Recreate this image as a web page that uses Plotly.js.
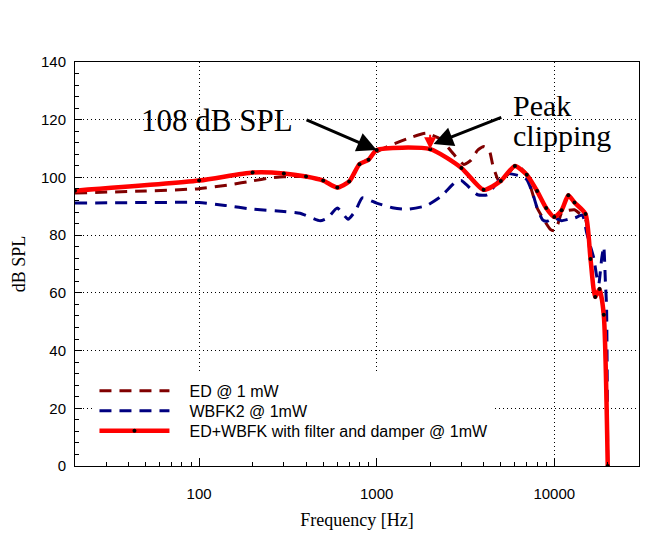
<!DOCTYPE html>
<html>
<head>
<meta charset="utf-8">
<script src="https://cdn.plot.ly/plotly-3.0.1.min.js"></script>
<style>html,body{margin:0;padding:0;background:#fff}</style>
</head>
<body>
<div id="chart" style="width:671px;height:534px"></div>
<script>
// ---- data ----
const seriesNames = ["ED @ 1 mW", "WBFK2 @ 1mW", "ED+WBFK with filter and damper @ 1mW"];

const edFreq = [20, 50, 100, 150, 200, 250, 300, 400, 500, 600, 700, 800, 900, 1000, 1200, 1500, 1900, 2300, 2700, 3100, 3400, 3700, 4000, 4300, 4500, 4800, 5000, 5500, 6000, 6500, 7000, 7500, 8000, 8800, 9500, 10000, 10500, 11000, 12000, 13000, 14000, 15000, 16000, 17000, 18000, 19000, 20000];
const edSpl  = [94.6, 95.3, 96.1, 97.5, 98.8, 99.8, 100.2, 100.3, 98.9, 96.5, 98.6, 104.5, 106.3, 108.8, 111.2, 113.5, 115.3, 113.2, 108.2, 104.5, 106.0, 109.4, 110.7, 109.5, 104.4, 99.5, 98.5, 101.2, 104.0, 103.2, 100.9, 95.0, 89.5, 85.0, 82.0, 81.5, 84.0, 87.8, 88.6, 88.8, 87.3, 85.5, 72.0, 59.0, 60.0, 52.0, 0];

const wbFreq = [20, 50, 100, 140, 200, 300, 370, 480, 530, 600, 690, 760, 830, 1000, 1250, 1500, 1900, 2300, 2800, 3000, 3200, 3700, 4200, 4900, 5500, 6400, 7000, 7600, 8000, 8600, 9100, 10000, 11000, 12000, 13100, 14400, 15200, 16000, 16700, 17300, 17800, 18500, 19000, 19400, 19700, 20000];
const wbSpl  = [91.1, 91.3, 91.3, 90.3, 89.0, 88.2, 87.6, 85.0, 86.0, 89.4, 85.5, 88.5, 92.9, 91.1, 89.4, 89.0, 90.2, 93.4, 98.6, 98.9, 97.5, 94.0, 94.0, 99.2, 101.3, 100.5, 99.3, 94.0, 89.5, 85.3, 84.8, 86.0, 85.0, 85.5, 86.0, 87.0, 81.0, 76.0, 72.0, 66.0, 63.0, 72.0, 76.0, 64.0, 55.0, 0];

const comboFreq = [20, 100, 200, 300, 400, 500, 600, 700, 800, 900, 1000, 2000, 3000, 4000, 5000, 6000, 7000, 8000, 9000, 10000, 11000, 12000, 13000, 15000, 16000, 17000, 18000, 19000, 20000];
const comboSpl  = [95.4, 98.9, 101.7, 101.4, 100.3, 98.9, 96.5, 98.6, 104.6, 106.1, 109.5, 109.8, 103.3, 95.7, 98.8, 104.0, 100.9, 95.3, 89.4, 86.3, 88.6, 93.8, 91.3, 87.3, 71.7, 58.6, 61.3, 52.4, 0];

const xTickVals = [100, 1000, 10000];
const xTickText = ["100", "1000", "10000"];
const yTickVals = [0, 20, 40, 60, 80, 100, 120, 140];
const yTickText = ["0", "20", "40", "60", "80", "100", "120", "140"];

const xTitle = "Frequency [Hz]";
const yTitle = "dB SPL";
const note1 = "108 dB SPL";
const note2a = "Peak";
const note2b = "clipping";

// ---- helpers ----
const L = Math.log10;
const xMinorVals = [];
[10, 100, 1000, 10000].forEach(d => { for (let k = 2; k <= 9; k++) xMinorVals.push(k * d); });

const clipIdx = comboFreq.indexOf(2000);
const refIdx = comboFreq.indexOf(1000);
const edPeak = Math.max(...edSpl);

const serif = "Liberation Serif, Times New Roman, serif";
const sans = "Liberation Sans, Arial, sans-serif";

const traces = [
  { x: edFreq, y: edSpl, name: seriesNames[0], type: "scatter", mode: "lines",
    line: { color: "#800000", width: 3, dash: "12px,8px", shape: "spline", smoothing: 0.5 } },
  { x: wbFreq, y: wbSpl, name: seriesNames[1], type: "scatter", mode: "lines",
    line: { color: "#000080", width: 3, dash: "12px,8px", shape: "spline", smoothing: 0.5 } },
  { x: comboFreq, y: comboSpl, name: seriesNames[2], type: "scatter", mode: "lines+markers",
    line: { color: "#ff0000", width: 4.5, shape: "spline", smoothing: 0.6 },
    marker: { color: "#000", size: 4 } }
];

const axisCommon = {
  showline: true, linecolor: "#000", linewidth: 1, mirror: true,
  ticks: "inside", ticklen: 7, tickcolor: "#000", tickwidth: 1,
  showgrid: true, gridcolor: "#000", gridwidth: 1, griddash: "1px,3px",
  zeroline: false, tickfont: { family: sans, size: 15, color: "#000" }
};

const layout = {
  width: 671, height: 534,
  margin: { l: 75, r: 32, t: 62, b: 68 },
  paper_bgcolor: "#fff", plot_bgcolor: "#fff",
  showlegend: true,
  legend: { x: 0.0345, y: 0.228, xanchor: "left", yanchor: "top", bgcolor: "#fff",
            borderwidth: 0, itemwidth: 85, tracegroupgap: 0,
            font: { family: sans, size: 16, color: "#000" } },
  xaxis: Object.assign({}, axisCommon, {
    type: "log", range: [L(20), L(30000)],
    tickmode: "array", tickvals: xTickVals, ticktext: xTickText,
    ticklabelstandoff: 14,
    minor: { tickmode: "array", tickvals: xMinorVals, ticks: "inside", ticklen: 4, tickcolor: "#000", showgrid: false },
    title: { text: xTitle, font: { family: serif, size: 18, color: "#000" }, standoff: 12 }
  }),
  yaxis: Object.assign({}, axisCommon, {
    range: [0, 140], tickmode: "array", tickvals: yTickVals, ticktext: yTickText,
    ticklabelstandoff: 5,
    minor: { dtick: 4, ticks: "inside", ticklen: 4, tickcolor: "#000", showgrid: false },
    title: { text: yTitle, font: { family: serif, size: 18, color: "#000" }, standoff: 10 }
  }),
  annotations: [
    { text: note1, x: L(46), y: 119.6, xref: "x", yref: "y", xanchor: "left", yanchor: "middle",
      showarrow: false, font: { family: serif, size: 31, color: "#000" } },
    { text: "", x: L(comboFreq[refIdx]), y: comboSpl[refIdx], xref: "x", yref: "y",
      ax: L(395), ay: 120.2, axref: "x", ayref: "y",
      showarrow: true, arrowhead: 2, arrowsize: 1.3, arrowwidth: 3, arrowcolor: "#000" },
    { text: note2a, x: L(5690), y: 125.0, xref: "x", yref: "y", xanchor: "left", yanchor: "middle",
      showarrow: false, font: { family: serif, size: 30, color: "#000" } },
    { text: note2b, x: L(5690), y: 114.4, xref: "x", yref: "y", xanchor: "left", yanchor: "middle",
      showarrow: false, font: { family: serif, size: 30, color: "#000" } },
    { text: "", x: L(2090), y: 111.6, xref: "x", yref: "y",
      ax: L(5130), ay: 121, axref: "x", ayref: "y",
      showarrow: true, arrowhead: 2, arrowsize: 1.3, arrowwidth: 3, arrowcolor: "#000" },
    { text: "", x: L(comboFreq[clipIdx]), y: comboSpl[clipIdx], xref: "x", yref: "y",
      ax: L(comboFreq[clipIdx]), ay: edPeak, axref: "x", ayref: "y",
      showarrow: true, arrowhead: 2, arrowsize: 1.2, arrowwidth: 2, arrowcolor: "#ff0000" }
  ]
};

Plotly.newPlot("chart", traces, layout, { displayModeBar: false, staticPlot: true }).then(gd => {
  // lengthen legend line samples and tighten row spacing to match the reference key
  gd.querySelectorAll(".legend .js-line").forEach(p => p.setAttribute("d", "M5,0h70"));
  gd.querySelectorAll(".legend .scatterpts").forEach(p => p.setAttribute("transform", "translate(40,0)"));
  const rows = Array.from(gd.querySelectorAll(".legend .traces"));
  if (rows.length) {
    const parse = t => { const m = /translate\(\s*([-\d.]+)[ ,]+([-\d.]+)\s*\)/.exec(t || ""); return m ? [+m[1], +m[2]] : [0, 0]; };
    const first = parse(rows[0].getAttribute("transform"));
    rows.forEach((r, i) => {
      const p = parse(r.getAttribute("transform"));
      r.setAttribute("transform", "translate(" + p[0] + "," + (first[1] + i * 20) + ")");
    });
  }
});
</script>
</body>
</html>
